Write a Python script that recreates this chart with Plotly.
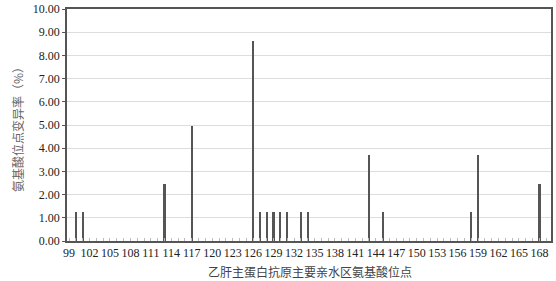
import plotly.graph_objects as go

positions = [100, 101, 113, 117, 126, 127, 128, 129, 130, 131, 133, 134, 143, 145, 158, 159, 168]
rates = [1.23, 1.23, 2.47, 4.94, 8.64, 1.23, 1.23, 1.23, 1.23, 1.23, 1.23, 1.23, 3.70, 1.23, 1.23, 3.70, 2.47]
tick_vals = list(range(99, 169, 3))
y_ticks = [i * 1.0 for i in range(11)]
x_title = "乙肝主蛋白抗原主要亲水区氨基酸位点"
y_title = "氨基酸位点变异率（%）"

W, H = 556, 281
L, R, T, B = 67, 5, 9, 40
pw, ph = W - L - R, H - T - B

fig = go.Figure()
fig.add_trace(go.Bar(x=positions, y=rates, width=0.32,
                     marker=dict(color="#555555", line=dict(width=0))))

serif = "Liberation Serif, Times New Roman, serif"
cjk = "Noto Sans CJK SC"
fig.update_layout(
    width=W, height=H,
    margin=dict(l=L, r=R, t=T, b=B, autoexpand=False),
    paper_bgcolor="white", plot_bgcolor="white",
    showlegend=False,
    bargap=0,
    xaxis=dict(
        range=[98.7, 169.7], automargin=False,
        tickmode="array", tickvals=tick_vals,
        ticktext=[str(v) for v in tick_vals],
        tickfont=dict(family=serif, size=12, color="#222222"),
        showgrid=False, zeroline=False,
        showline=True, linecolor="#555555", linewidth=1.5, mirror=True,
        ticks="", ticklen=0,
        minor=dict(dtick=1, tick0=99, ticks="inside", ticklen=3, tickcolor="#bbbbbb", showgrid=False),
    ),
    yaxis=dict(
        range=[0, 10], automargin=False,
        tickmode="array", tickvals=y_ticks,
        ticktext=[f"{v:.2f}" for v in y_ticks],
        tickfont=dict(family=serif, size=12, color="#222222"),
        showgrid=True, gridcolor="#dddddd", gridwidth=1,
        zeroline=False,
        showline=True, linecolor="#555555", linewidth=1.5, mirror=True,
        ticks="outside", ticklen=3, tickcolor="#555555",
    ),
    annotations=[
        dict(text=x_title, xref="paper", yref="paper",
             x=(310 - L) / pw, y=-(271 - (T + ph)) / ph,
             xanchor="center", yanchor="middle", showarrow=False,
             font=dict(family=cjk, size=12, color="#444444")),
        dict(text=y_title, xref="paper", yref="paper",
             x=(18 - L) / pw, y=(T + ph - 127) / ph,
             xanchor="center", yanchor="middle", showarrow=False, textangle=-90,
             font=dict(family=cjk, size=12, color="#666666")),
    ],
)

fig.write_html("out.html", config={"displayModeBar": False},
               post_script="document.body.style.margin='0';document.body.style.overflow='hidden';")
